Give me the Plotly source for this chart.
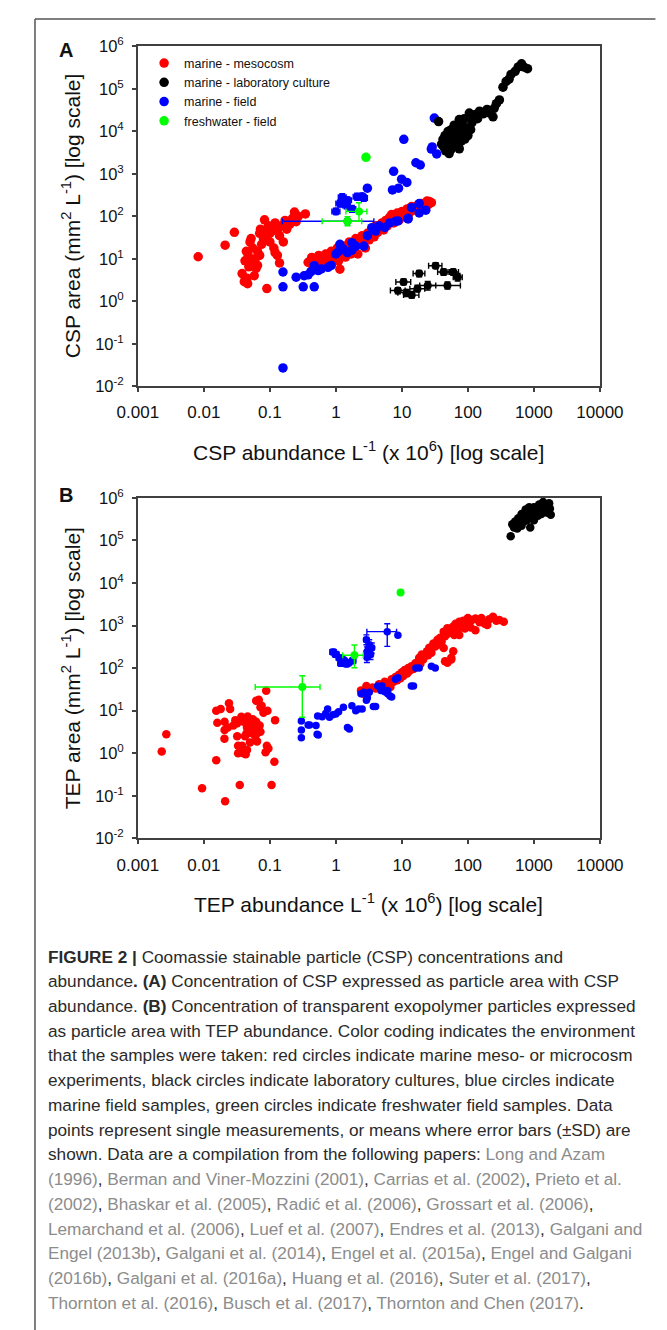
import plotly.graph_objects as go

W, H = 667, 1330

# ---------------- axis ticks ----------------
x_tickvals = [0.001, 0.01, 0.1, 1, 10, 100, 1000, 10000]
x_ticktext = ["0.001", "0.01", "0.1", "1", "10", "100", "1000", "10000"]
y_tickvals = [1e-2, 1e-1, 1e0, 1e1, 1e2, 1e3, 1e4, 1e5, 1e6]
y_ticktext = ["10<sup>-2</sup>", "10<sup>-1</sup>", "10<sup>0</sup>", "10<sup>1</sup>", "10<sup>2</sup>",
              "10<sup>3</sup>", "10<sup>4</sup>", "10<sup>5</sup>", "10<sup>6</sup>"]

categories = ["marine - mesocosm", "marine - laboratory culture", "marine - field", "freshwater - field"]
colors = {"marine - mesocosm": "#FF0000", "marine - laboratory culture": "#000000",
          "marine - field": "#0000FF", "freshwater - field": "#00FF00"}

# ---------------- Panel A: CSP ----------------
A_red_x = [0.0082, 0.021, 0.029, 0.038, 0.041, 0.045, 0.046, 0.042, 0.044, 0.047, 0.05, 0.052, 0.055,
           0.048, 0.055, 0.06, 0.062, 0.065, 0.07, 0.072, 0.075, 0.08, 0.083, 0.085, 0.09, 0.09, 0.095,
           0.1, 0.1, 0.11, 0.115, 0.12, 0.13, 0.13, 0.14, 0.15, 0.16, 0.17, 0.18, 0.2, 0.22, 0.236, 0.25,
           0.27, 0.345, 0.14, 0.12, 0.07, 0.065, 0.058,
           0.38, 0.43, 0.45, 0.5, 0.55, 0.6, 0.65, 0.7, 0.76, 0.8, 0.85, 0.9, 1.0, 1.05, 1.1, 1.15, 1.2,
           1.3, 1.4, 1.5, 1.6, 1.7, 1.8, 2.0, 2.15, 2.3, 2.5, 2.65, 2.8, 3.0, 3.2, 3.5, 3.8, 4.0, 4.3, 4.6,
           5.0, 5.3, 5.7, 6.0, 6.5, 7.0, 7.5, 8.0, 8.5, 9.0, 10, 10.6, 11.5, 12, 13, 14, 15, 17, 18, 20,
           22, 24, 26, 25, 28]
A_red_y = [11.2, 21, 42, 4.5, 2.9, 3.5, 2.6, 9, 15, 12, 25, 30, 18,
           6.5, 8, 10, 6, 15, 40, 50, 22, 30, 83, 45, 35, 2.0, 60,
           25, 40, 55, 18, 70, 12, 45, 35, 60, 25, 80, 50, 65, 90, 126, 75,
           100, 114, 8, 14, 12, 7, 4,
           8.3, 10.8, 6.5, 9, 12, 7.5, 10, 13, 11, 8, 15, 10, 12, 18, 9, 5.7, 14,
           20, 11, 16, 25, 13, 19, 30, 13, 22, 35, 26, 18, 40, 28, 45, 33, 60, 42, 54,
           70, 48, 80, 60, 95, 110, 70, 90, 120, 80, 130, 110, 95, 150, 120, 170, 140, 180, 150, 200,
           170, 230, 225, 190, 210]

A_blue_x = [0.158, 0.158, 0.158, 0.25, 0.32, 0.33, 0.38, 0.42, 0.47, 0.47, 0.54, 0.6, 0.76, 0.85, 1.0,
            1.1, 1.15, 1.3, 1.5, 1.75, 1.75, 2.0, 2.65, 3.0, 3.5, 4.0, 4.5, 5.5, 6.5, 8.1, 8.7, 12.4,
            12.4, 14, 18.3, 18.3, 23, 2.5, 3.0, 7.2, 8.9, 7.5, 9.9, 11.9, 16.3, 19.0, 10.7, 27.9, 33.7,
            28.8, 31.0]
A_blue_y = [4.9, 2.2, 0.027, 3.7, 2.2, 4.0, 4.2, 5.0, 2.2, 6.9, 5.3, 5.8, 6.3, 7, 13,
            15, 22, 17, 14, 24, 16, 20, 20, 35, 54, 45, 60, 55, 70, 77, 78, 87,
            90, 160, 120, 200, 140, 290, 460, 420, 460, 1150, 750, 630, 1830, 1620, 6500, 3850, 2950,
            4300, 20600]

# blue means with error bars (A)
A_blue_err_x = [1.5, 1.0, 1.15, 1.3, 1.5, 1.45, 1.75, 2.1, 2.65, 1.25]
A_blue_err_y = [77, 130, 200, 240, 240, 180, 150, 290, 270, 280]
A_blue_err_xp = [2.26, 0.15, 0.17, 0.2, 0.22, 0.2, 0.25, 0.3, 0.35, 0.18]
A_blue_err_xm = [1.345, 0.13, 0.15, 0.17, 0.2, 0.18, 0.22, 0.27, 0.3, 0.16]
A_blue_err_yp = [0, 25, 40, 50, 45, 35, 30, 60, 50, 60]
A_blue_err_ym = [0, 20, 35, 40, 40, 30, 25, 50, 45, 50]

A_black_x = [40, 42, 43, 45, 46, 48, 50, 52, 54, 56, 56, 58, 60, 62, 64, 66, 68, 70, 72, 74, 74, 76, 80,
             82, 85, 88, 90, 95, 100, 105, 110, 115, 120, 130, 140, 150, 170, 195, 215, 240, 250, 270,
             300, 340, 380, 420, 450, 520, 580, 650, 700, 800, 36, 52]
A_black_y = [5000, 6500, 4300, 8000, 3500, 5500, 10000, 7000, 4000, 3800, 11000, 6000, 9000, 14000, 5000,
             7500, 12000, 8000, 4500, 3900, 19000, 10000, 6000, 15000, 9000, 20000, 6600, 12000, 8000,
             27000, 11000, 16000, 19000, 25000, 20000, 30000, 26000, 33000, 27000, 22000, 35000, 45000,
             55000, 110000, 150000, 170000, 220000, 260000, 330000, 390000, 330000, 300000, 17000, 3000]

# black means with error bars (A)
A_black_err_x = [10.6, 8.7, 11.7, 14.1, 17.2, 18.3, 24.6, 32.4, 42.8, 49, 60, 70]
A_black_err_y = [2.85, 1.8, 1.6, 1.4, 1.98, 4.5, 2.35, 6.9, 4.9, 2.35, 4.9, 3.7]
A_black_err_xp = [3.0, 2.5, 3.5, 4.0, 5.0, 4.0, 8.0, 8.0, 10.0, 28.0, 12.0, 12.0]
A_black_err_xm = [2.5, 2.0, 3.0, 3.5, 4.0, 3.5, 6.0, 7.0, 8.0, 22.0, 10.0, 10.0]
A_black_err_yp = [0.5, 0.3, 0.3, 0.3, 0.4, 0.8, 0.6, 1.2, 0.9, 0.5, 0.9, 0.8]
A_black_err_ym = [0.4, 0.3, 0.3, 0.2, 0.3, 0.7, 0.5, 1.0, 0.8, 0.4, 0.8, 0.7]

A_green_x = [2.86]
A_green_y = [2460]
A_green_err_x = [2.24, 1.5]
A_green_err_y = [131, 77]
A_green_err_xp = [0.71, 0.96]
A_green_err_xm = [0.82, 0.88]
A_green_err_yp = [79, 21]
A_green_err_ym = [54, 17]

# ---------------- Panel B: TEP ----------------
B_red_x = [0.0023, 0.0027, 0.0094, 0.021, 0.0154, 0.035, 0.106, 0.117, 0.088, 0.12, 0.092, 0.068, 0.075,
           0.062, 0.09, 0.095, 0.086, 0.064, 0.0154, 0.018, 0.024, 0.025, 0.016, 0.0206, 0.0205, 0.0206,
           0.032, 0.037, 0.046, 0.055, 0.052, 0.044, 0.032, 0.033, 0.037, 0.033, 0.072, 0.023, 0.03,
           0.04, 0.045, 0.05, 0.055, 0.06, 0.042, 0.038, 0.045, 0.04, 0.05, 0.06, 0.065, 0.07, 0.028,
           0.048, 0.062, 0.043, 0.08, 0.072,
           2.4, 2.6, 2.9, 3.2, 3.6, 4.0, 4.5, 5.0, 5.5, 6.0, 6.7, 7.0, 7.5, 8.0, 8.5, 9.0, 9.5, 10, 10.5,
           11, 12, 12.5, 13, 14, 15, 16, 17, 18, 18.3, 19, 20, 21, 22, 24, 25, 26, 27.7, 28, 30, 32,
           34.6, 36, 38, 40, 43, 43, 45, 49, 50, 55, 60, 62, 65, 70, 74, 74, 80, 85, 90, 100, 100, 110,
           115, 130, 130, 150, 160, 180, 197, 210, 240, 270, 300, 350, 45, 56, 49, 56, 60]
B_red_y = [1.1, 2.8, 0.15, 0.074, 0.68, 0.18, 0.18, 0.63, 29.5, 6.0, 10, 18, 13,
           17, 1.5, 1.3, 1.05, 1.9, 10, 11, 15, 11, 5.2, 3.5, 2.2, 5.5,
           5.1, 7.2, 7.3, 6.3, 3.7, 2.9, 2.5, 1.5, 1.1, 1.0, 3.2, 4.0, 6,
           5.5, 4, 3, 5, 4, 2.5, 1.5, 1.2, 1.0, 1.8, 2.5, 3, 4.5, 4.5,
           6, 5.5, 0.95, 9, 12,
           30, 25, 38, 30, 35, 33, 42, 38, 48, 42, 36, 55, 48, 62, 52, 70, 58, 80, 65,
           90, 75, 100, 85, 110, 95, 130, 110, 150, 175, 125, 210, 160, 190, 250, 200, 300, 275, 230, 380, 320,
           465, 360, 520, 420, 295, 720, 560, 870, 650, 750, 950, 600, 1100, 800, 1230, 600, 950, 1300, 850,
           1100, 1500, 900, 1350, 1470, 780, 1200, 1500, 1100, 1030, 1400, 1600, 1300, 1350, 1230, 145, 160,
           133, 175, 250]

B_blue_x = [0.30, 0.30, 0.30, 0.38, 0.4, 0.5, 0.52, 0.54, 0.53, 0.62, 0.7, 0.75, 0.8, 0.9, 1.0, 1.1, 1.3,
            1.5, 1.6, 1.75, 2.0, 2.2, 2.5, 2.4, 2.65, 2.9, 3.2, 3.0, 3.7, 4.0, 4.3, 4.8, 5.0, 5.5, 6.1,
            6.1, 6.6, 7.0, 8.0, 8.7, 13.9, 15, 16.3, 18.3, 28, 32, 8.7]
B_blue_y = [5.7, 3.5, 2.3, 4.6, 4.6, 4.5, 2.8, 2.7, 7.5, 7.2, 8.6, 11, 7, 8.0, 8.4, 9.5, 12,
            4.0, 3.7, 13, 10, 11, 11, 25, 27, 17.5, 27, 20, 12.6, 12.5, 38, 30, 38, 28, 30,
            25, 22, 21, 55, 59, 38, 38, 100, 100, 110, 100, 590]

B_blue_err_x = [0.91, 1.0, 1.13, 1.25, 1.33, 1.56, 1.8, 1.2, 1.45, 2.9, 3.2, 2.95, 3.5, 3.35, 2.95, 3.1, 6.0]
B_blue_err_y = [240, 210, 175, 160, 148, 135, 150, 130, 125, 465, 355, 240, 300, 210, 180, 280, 720]
B_blue_err_xp = [0.1, 0.12, 0.13, 0.15, 0.15, 0.18, 0.2, 0.14, 0.17, 0.25, 0.25, 0.25, 0.3, 0.28, 0.25, 0.25, 2.3]
B_blue_err_xm = [0.1, 0.11, 0.12, 0.13, 0.14, 0.16, 0.18, 0.13, 0.15, 0.22, 0.22, 0.22, 0.26, 0.25, 0.22, 0.22, 3.05]
B_blue_err_yp = [40, 35, 30, 28, 25, 22, 25, 22, 20, 140, 110, 75, 90, 60, 55, 85, 380]
B_blue_err_ym = [35, 30, 25, 24, 22, 20, 22, 20, 18, 110, 90, 60, 75, 50, 45, 70, 395]

B_black_x = [470, 500, 520, 560, 600, 620, 650, 700, 720, 750, 780, 820, 880, 900, 950, 1000, 1050, 1100,
             1150, 1200, 1250, 1300, 1380, 1400, 1500, 1600, 1700, 1800, 1750, 850, 650, 580, 1000, 1200, 445]
B_black_y = [240000, 200000, 280000, 190000, 250000, 320000, 220000, 280000, 380000, 530000, 300000, 420000,
             200000, 350000, 480000, 300000, 420000, 550000, 380000, 480000, 650000, 420000, 800000, 550000,
             700000, 450000, 750000, 400000, 560000, 600000, 420000, 330000, 600000, 700000, 126000]

B_green_x = [9.55]
B_green_y = [6000]
B_green_err_x = [0.31, 1.91]
B_green_err_y = [36, 200]
B_green_err_xp = [0.265, 0.69]
B_green_err_xm = [0.25, 0.64]
B_green_err_yp = [30, 150]
B_green_err_ym = [29, 98]

# ---------------- figure ----------------
fig = go.Figure()


def pts(x, y, cat, size, xa, ya, legend=False, rank=None,
        exp=None, exm=None, eyp=None, eym=None):
    c = colors[cat]
    kw = dict(x=x, y=y, mode="markers", xaxis=xa, yaxis=ya, name=cat,
              legendgroup=cat, showlegend=legend,
              marker=dict(color=c, size=size, line=dict(width=0)),
              hoverinfo="x+y+name")
    if rank is not None:
        kw["legendrank"] = rank
    if exp is not None:
        kw["error_x"] = dict(type="data", symmetric=False, array=exp, arrayminus=exm,
                             color=c, thickness=1.4, width=3)
    if eyp is not None:
        kw["error_y"] = dict(type="data", symmetric=False, array=eyp, arrayminus=eym,
                             color=c, thickness=1.4, width=3)
    fig.add_trace(go.Scatter(**kw))


# Panel A
pts(A_red_x, A_red_y, categories[0], 9.5, "x", "y", legend=True, rank=1)
pts(A_blue_x, A_blue_y, categories[2], 9.5, "x", "y", legend=True, rank=3)
pts(A_blue_err_x, A_blue_err_y, categories[2], 8, "x", "y",
    exp=A_blue_err_xp, exm=A_blue_err_xm, eyp=A_blue_err_yp, eym=A_blue_err_ym)
pts(A_black_x, A_black_y, categories[1], 9.5, "x", "y", legend=True, rank=2)
pts(A_black_err_x, A_black_err_y, categories[1], 8, "x", "y",
    exp=A_black_err_xp, exm=A_black_err_xm, eyp=A_black_err_yp, eym=A_black_err_ym)
pts(A_green_err_x, A_green_err_y, categories[3], 8, "x", "y",
    exp=A_green_err_xp, exm=A_green_err_xm, eyp=A_green_err_yp, eym=A_green_err_ym)
pts(A_green_x, A_green_y, categories[3], 9.5, "x", "y", legend=True, rank=4)

# Panel B
pts(B_red_x, B_red_y, categories[0], 8.5, "x2", "y2")
pts(B_blue_x, B_blue_y, categories[2], 7.5, "x2", "y2")
pts(B_blue_err_x, B_blue_err_y, categories[2], 7.5, "x2", "y2",
    exp=B_blue_err_xp, exm=B_blue_err_xm, eyp=B_blue_err_yp, eym=B_blue_err_ym)
pts(B_black_x, B_black_y, categories[1], 8.5, "x2", "y2")
pts(B_green_err_x, B_green_err_y, categories[3], 8, "x2", "y2",
    exp=B_green_err_xp, exm=B_green_err_xm, eyp=B_green_err_yp, eym=B_green_err_ym)
pts(B_green_x, B_green_y, categories[3], 8, "x2", "y2")


def px(v):
    return v / W


def py(v):
    return 1 - v / H


AX = "#404040"
FONT = "Liberation Sans, Arial, sans-serif"
xdom = [px(125.3), px(620.8)]
common_x = dict(type="log", range=[-3, 4], tickmode="array", tickvals=x_tickvals, ticktext=x_ticktext,
                ticks="outside", ticklen=4, tickwidth=1.5, tickcolor=AX, showline=True, mirror=True,
                linecolor=AX, linewidth=1.5, showgrid=False, zeroline=False,
                tickfont=dict(family=FONT, size=17, color="#111"), ticklabelstandoff=6, domain=xdom)
common_y = dict(type="log", range=[-2, 6], tickmode="array", tickvals=y_tickvals, ticktext=y_ticktext,
                ticks="outside", ticklen=4, tickwidth=1.5, tickcolor=AX, showline=True, mirror=True,
                linecolor=AX, linewidth=1.5, showgrid=False, zeroline=False,
                tickfont=dict(family=FONT, size=16.5, color="#111"), ticklabelstandoff=5)

fig.update_layout(
    width=W, height=H, margin=dict(l=0, r=0, t=0, b=0),
    paper_bgcolor="white", plot_bgcolor="white",
    font=dict(family=FONT, color="#111"),
    xaxis=dict(common_x, anchor="y"),
    yaxis=dict(common_y, anchor="x", domain=[py(381), py(36)]),
    xaxis2=dict(common_x, anchor="y2"),
    yaxis2=dict(common_y, anchor="x2", domain=[py(840), py(494.3)]),
    legend=dict(x=px(132), y=py(38), xanchor="left", yanchor="top", bgcolor="rgba(0,0,0,0)",
                font=dict(family=FONT, size=12.5, color="#111"), tracegroupgap=0, borderwidth=0),
    showlegend=True,
)

ann = []
# axis titles
ann.append(dict(text="CSP abundance L<sup>-1</sup> (x 10<sup>6</sup>) [log scale]", x=px(373), y=py(447),
                font=dict(family=FONT, size=21, color="#111")))
ann.append(dict(text="CSP area (mm<sup>2</sup> L<sup>-1</sup>) [log scale]", x=px(54), y=py(208),
                textangle=-90, font=dict(family=FONT, size=21, color="#111")))
ann.append(dict(text="TEP abundance L<sup>-1</sup> (x 10<sup>6</sup>) [log scale]", x=px(373), y=py(906),
                font=dict(family=FONT, size=21, color="#111")))
ann.append(dict(text="TEP area (mm<sup>2</sup> L<sup>-1</sup>) [log scale]", x=px(54), y=py(667),
                textangle=-90, font=dict(family=FONT, size=21, color="#111")))
ann.append(dict(text="<b>A</b>", x=px(48), y=py(40), font=dict(family=FONT, size=20, color="#111")))
ann.append(dict(text="<b>B</b>", x=px(48), y=py(491), font=dict(family=FONT, size=20, color="#111")))

GRAY = "#8c8c8c"


def g(s):
    return "<span style='color:%s'>%s</span>" % (GRAY, s)


caption_lines = [
    "<b>FIGURE 2 |</b> Coomassie stainable particle (CSP) concentrations and",
    "abundance<b>. (A)</b> Concentration of CSP expressed as particle area with CSP",
    "abundance. <b>(B)</b> Concentration of transparent exopolymer particles expressed",
    "as particle area with TEP abundance. Color coding indicates the environment",
    "that the samples were taken: red circles indicate marine meso- or microcosm",
    "experiments, black circles indicate laboratory cultures, blue circles indicate",
    "marine field samples, green circles indicate freshwater field samples. Data",
    "points represent single measurements, or means where error bars (\u00b1SD) are",
    "shown. Data are a compilation from the following papers: " + g("Long and Azam"),
    g("(1996)") + ", " + g("Berman and Viner-Mozzini (2001)") + ", " + g("Carrias et al. (2002)") + ", " + g("Prieto et al."),
    g("(2002)") + ", " + g("Bhaskar et al. (2005)") + ", " + g("Radi\u0107 et al. (2006)") + ", " + g("Grossart et al. (2006)") + ",",
    g("Lemarchand et al. (2006)") + ", " + g("Luef et al. (2007)") + ", " + g("Endres et al. (2013)") + ", " + g("Galgani and"),
    g("Engel (2013b)") + ", " + g("Galgani et al. (2014)") + ", " + g("Engel et al. (2015a)") + ", " + g("Engel and Galgani"),
    g("(2016b)") + ", " + g("Galgani et al. (2016a)") + ", " + g("Huang et al. (2016)") + ", " + g("Suter et al. (2017)") + ",",
    g("Thornton et al. (2016)") + ", " + g("Busch et al. (2017)") + ", " + g("Thornton and Chen (2017)") + ".",
]
for i, line in enumerate(caption_lines):
    ann.append(dict(text=line, x=px(27), y=py(960 + i * 25.1), xanchor="left",
                    font=dict(family=FONT, size=17.2, color="#2a2a2a")))

for a in ann:
    a.setdefault("xref", "paper")
    a.setdefault("yref", "paper")
    a.setdefault("showarrow", False)
    a.setdefault("xanchor", "center")
    a.setdefault("yanchor", "middle")
fig.update_layout(annotations=ann)

fig.update_layout(shapes=[
    dict(type="line", xref="paper", yref="paper", x0=px(15), x1=1.02, y0=py(8), y1=py(8),
         line=dict(color="#555", width=1.5)),
    dict(type="line", xref="paper", yref="paper", x0=px(15), x1=px(15), y0=py(8), y1=-0.02,
         line=dict(color="#555", width=1.5)),
])

fig.write_html("out.html", config={"displayModeBar": False},
               post_script="document.body.style.margin='0px';document.body.style.overflow='hidden';")
